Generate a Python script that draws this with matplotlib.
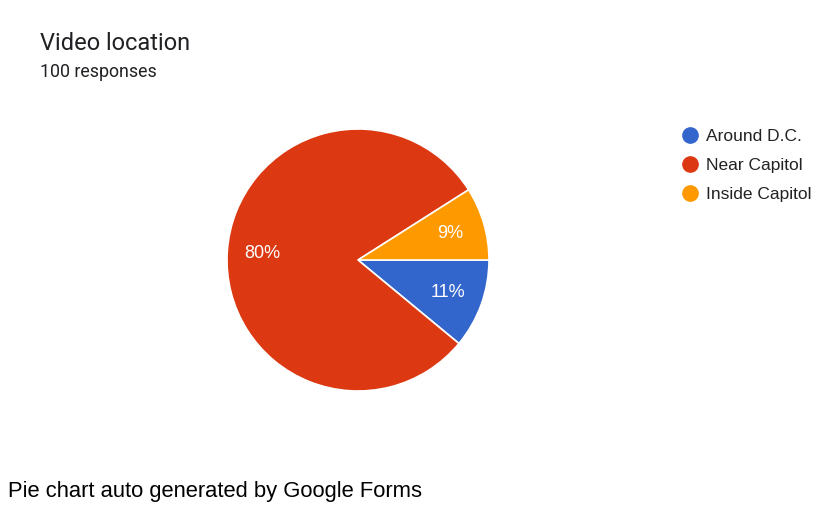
import matplotlib.pyplot as plt
from matplotlib.lines import Line2D

# Video location responses
labels = ["Around D.C.", "Near Capitol", "Inside Capitol"]
counts = [11, 80, 9]
colors = ["#3366cc", "#dc3912", "#ff9900"]

W, H = 839, 514
fig = plt.figure(figsize=(W / 100, H / 100), dpi=100)

# pie centred at about (358, 260) px, radius ~131 px
cx, cy, r = 358, 260, 131
ax = fig.add_axes([(cx - r) / W, (H - cy - r) / H, 2 * r / W, 2 * r / H])
wedges, texts, autotexts = ax.pie(
    counts, colors=colors, startangle=0, counterclock=False,
    autopct=lambda p: "%d%%" % round(p), pctdistance=0.73,
    wedgeprops=dict(edgecolor="white", linewidth=1.2),
    textprops=dict(color="white", fontsize=13, family="Liberation Sans"),
)
ax.set_xlim(-1, 1)
ax.set_ylim(-1, 1)
ax.set_aspect("equal")

fig.text(40 / W, 1 - 43 / H, "Video location", fontsize=17, family="Roboto",
         color="#202124", va="center")
fig.text(40 / W, 1 - 72 / H, "100 responses", fontsize=12.8, family="Roboto",
         color="#202124", va="center")

handles = [Line2D([], [], marker="o", linestyle="", markersize=11,
                  markerfacecolor=c, markeredgecolor=c) for c in colors]
fig.legend(handles, labels, loc="upper left", bbox_to_anchor=(660 / W, 1 - 113 / H),
           frameon=False, handletextpad=0.15, labelspacing=0.8, handlelength=1.6,
           prop=dict(family="Liberation Sans", size=12.5), labelcolor="#222222")

fig.text(8 / W, 1 - 491 / H, "Pie chart auto generated by Google Forms",
         fontsize=15.8, family="Liberation Sans", color="black", va="center")

plt.savefig("out.png", dpi=100)
